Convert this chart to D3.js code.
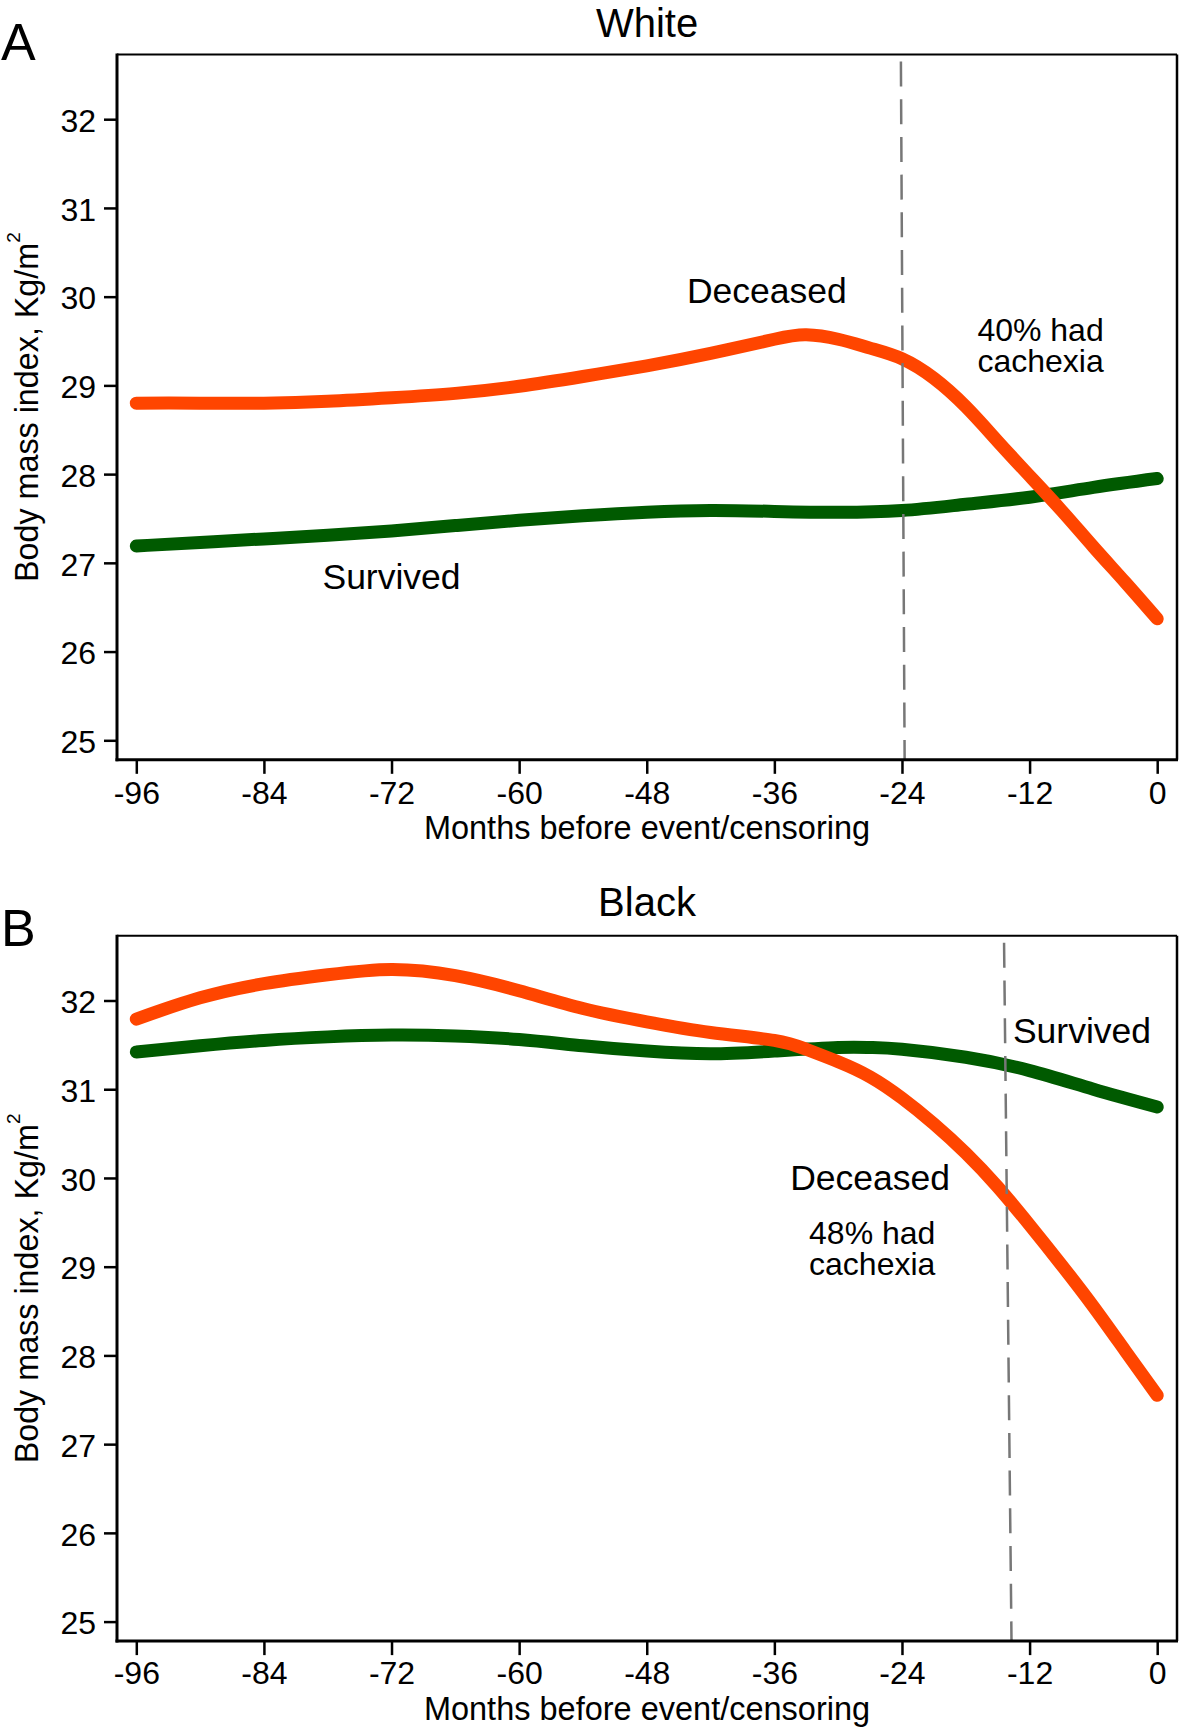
<!DOCTYPE html>
<html><head><meta charset="utf-8">
<script src="https://cdn.jsdelivr.net/npm/d3@7"></script>
<style>
body{margin:0;background:#fff;}
svg{display:block;background:#fff;}
text{font-family:"Liberation Sans",Arial,Helvetica,sans-serif;fill:#000;}
</style>
</head><body>
<svg id="chart" width="1181" height="1730"></svg>
<script>
// ---------- data ----------
const xTicks = [-96, -84, -72, -60, -48, -36, -24, -12, 0];
const yTicks = [25, 26, 27, 28, 29, 30, 31, 32];

const deceasedMonths = [-96,-90,-84,-78,-72,-66,-60,-54,-48,-42,-36,-33,-30,-27,-24,-21,-18,-15,-12,-9,-6,-3,0];
const whiteDeceased  = [28.80,28.80,28.80,28.82,28.86,28.91,28.99,29.10,29.22,29.36,29.52,29.57,29.52,29.42,29.30,29.08,28.76,28.37,27.98,27.59,27.18,26.78,26.37];
const blackDeceased  = [31.79,32.03,32.19,32.29,32.35,32.28,32.11,31.91,31.76,31.64,31.55,31.45,31.31,31.14,30.90,30.61,30.28,29.90,29.47,29.02,28.55,28.05,27.55];

const whiteSurvivedMonths = [-96,-90,-84,-78,-72,-66,-60,-54,-48,-42,-36,-30,-24,-18,-12,-6,0];
const whiteSurvived       = [27.19,27.23,27.27,27.31,27.36,27.42,27.48,27.53,27.57,27.59,27.58,27.57,27.59,27.66,27.74,27.85,27.95];

const blackSurvivedMonths = [-96,-90,-84,-78,-72,-66,-60,-54,-48,-42,-36,-30,-27,-24,-18,-12,-6,0];
const blackSurvived       = [31.42,31.49,31.55,31.59,31.61,31.60,31.56,31.49,31.43,31.40,31.43,31.47,31.47,31.45,31.36,31.21,31.00,30.80];

const panelLetters = ["A", "B"];
const panelTitles = ["White", "Black"];
const xAxisTitle = "Months before event/censoring";
const yAxisTitle = "Body mass index, Kg/m";

// dashed reference lines: [month at top, month at bottom]
const cutLines = [[-24.1, -23.75], [-14.4, -13.7]];

// annotations: [lines, month, bmi(first baseline), size]
const whiteLabels = [[["Deceased"], -36.7, 29.93, 35.5], [["40% had", "cachexia"], -10.97, 29.50, 32], [["Survived"], -72.0, 26.71, 35.5]];
const blackLabels = [[["Survived"], -7.07, 31.52, 35.5], [["Deceased"], -27.0, 29.86, 35.5], [["48% had", "cachexia"], -26.8, 29.26, 32]];

// ---------- layout ----------
const svg = d3.select("#chart");
const plotLeft = 117, plotRight = 1177;
const x = d3.scaleLinear().domain([-96, 0]).range([136.3, 1157.2]);
const ORANGE = "#ff4500", GREEN = "#005a00";

const panels = [
  {offset: 0, deceased: whiteDeceased, survivedM: whiteSurvivedMonths, survived: whiteSurvived, labels: whiteLabels, titleY: 36.5, letterY: 60, tickY: 803.8, axisTitleY: 838.5},
  {offset: 881.3, deceased: blackDeceased, survivedM: blackSurvivedMonths, survived: blackSurvived, labels: blackLabels, titleY: 916, letterY: 946, tickY: 1684, axisTitleY: 1720}
];

panels.forEach((p, i) => {
  const y = d3.scaleLinear().domain([25, 32]).range([740.3 + p.offset, 119.2 + p.offset]);
  const top = y(32.73), bottom = y(24.78);
  const g = svg.append("g");

  const line = d3.line().x(d => x(d[0])).y(d => y(d[1])).curve(d3.curveNatural);
  const dec = deceasedMonths.map((m, k) => [m, p.deceased[k]]);
  const sur = p.survivedM.map((m, k) => [m, p.survived[k]]);

  [[sur, GREEN], [dec, ORANGE]].forEach(([d, c]) => {
    g.append("path").datum(d).attr("d", line)
      .attr("fill", "none").attr("stroke", c).attr("stroke-width", 13)
      .attr("stroke-linecap", "round").attr("stroke-linejoin", "round");
  });

  // dashed vertical line (drawn over the curves)
  g.append("line")
    .attr("x1", x(cutLines[i][0])).attr("y1", y(32.65))
    .attr("x2", x(cutLines[i][1])).attr("y2", bottom)
    .attr("stroke", "#777").attr("stroke-width", 2.5)
    .attr("stroke-dasharray", "25,12.7");

  // frame
  g.append("line").attr("x1", plotLeft).attr("x2", plotRight).attr("y1", top).attr("y2", top).attr("stroke", "#000").attr("stroke-width", 2);
  g.append("line").attr("x1", plotRight).attr("x2", plotRight).attr("y1", top).attr("y2", bottom).attr("stroke", "#000").attr("stroke-width", 2.5);

  // axes
  const xAxis = d3.axisBottom(x).tickValues(xTicks).tickSize(14).tickPadding(8).tickSizeOuter(0).tickFormat(d => String(d));
  const gx = g.append("g").attr("transform", `translate(0,${bottom})`).call(xAxis);
  gx.select(".domain").remove();
  gx.selectAll(".tick line").attr("stroke", "#000").attr("stroke-width", 2.5);
  gx.selectAll(".tick text").attr("font-size", 32).attr("font-family", null).attr("dy", null)
    .attr("y", p.tickY - bottom);

  const yAxis = d3.axisLeft(y).tickValues(yTicks).tickSize(13).tickPadding(8).tickSizeOuter(0).tickFormat(d => String(d));
  const gy = g.append("g").attr("transform", `translate(${plotLeft},0)`).call(yAxis);
  gy.select(".domain").remove();
  gy.selectAll(".tick line").attr("stroke", "#000").attr("stroke-width", 2.5);
  gy.selectAll(".tick text").attr("font-size", 32).attr("font-family", null).attr("dy", "0.38em");

  g.append("line").attr("x1", plotLeft).attr("x2", plotLeft).attr("y1", top - 1).attr("y2", bottom + 1.5).attr("stroke", "#000").attr("stroke-width", 3);
  g.append("line").attr("x1", plotLeft - 1.5).attr("x2", plotRight + 1).attr("y1", bottom).attr("y2", bottom).attr("stroke", "#000").attr("stroke-width", 3);

  // titles
  const cx = (plotLeft + plotRight) / 2;
  g.append("text").attr("x", cx).attr("y", p.titleY).attr("text-anchor", "middle").attr("font-size", 40).text(panelTitles[i]);
  g.append("text").attr("x", 1).attr("y", p.letterY).attr("font-size", 52).text(panelLetters[i]);
  g.append("text").attr("x", cx).attr("y", p.axisTitleY).attr("text-anchor", "middle").attr("font-size", 32.5).text(xAxisTitle);
  const yt = g.append("text").attr("transform", `translate(38,${(top + bottom) / 2}) rotate(-90)`)
    .attr("text-anchor", "middle").attr("font-size", 32.3);
  yt.append("tspan").text(yAxisTitle);
  yt.append("tspan").attr("font-size", 19).attr("dy", "-0.95em").text("2");

  // annotations
  p.labels.forEach(([lines, m, v, s]) => {
    const t = g.append("text").attr("x", x(m)).attr("y", y(v)).attr("text-anchor", "middle").attr("font-size", s);
    lines.forEach((ln, k) => {
      t.append("tspan").attr("x", x(m)).attr("dy", k === 0 ? 0 : 31.2).text(ln);
    });
  });
});
</script>
</body></html>
